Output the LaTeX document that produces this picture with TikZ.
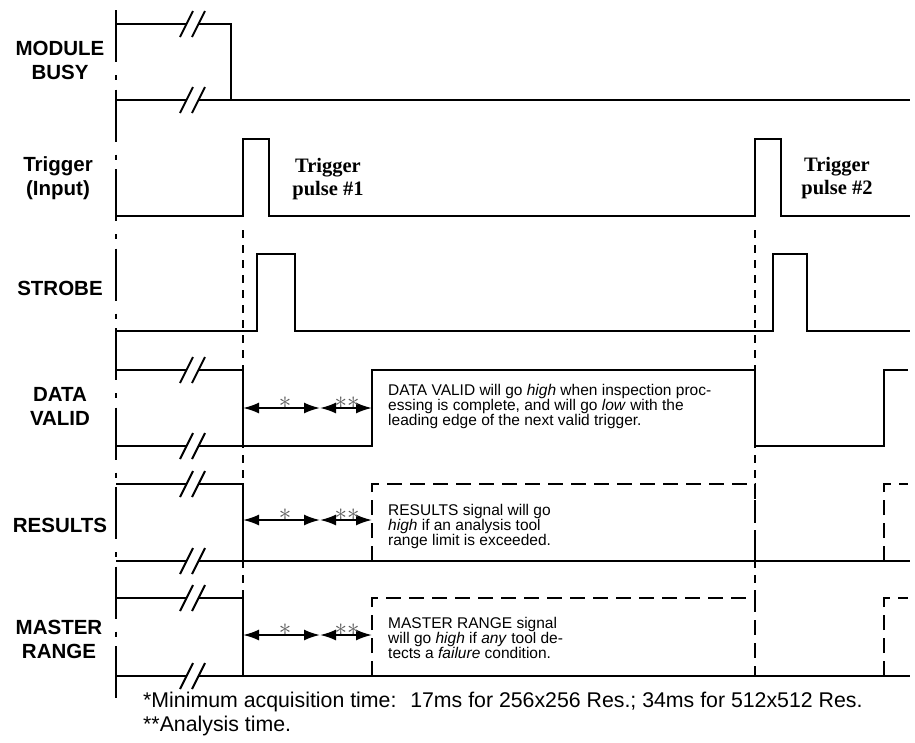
\documentclass[tikz,border=0pt]{standalone}
\usepackage{fontspec}
\setmainfont{Liberation Sans}
\newfontfamily\pulsefont{Liberation Serif}
\usetikzlibrary{arrows.meta}

% break mark "//" on a signal line
\newcommand{\brkmark}[2]{%
  \fill[white] (#1-13,#2+13) -- (#1,#2-13) -- (#1+12,#2-13) -- (#1-1,#2+13) -- cycle;
  \draw[brk] (#1-13,#2+13) -- (#1,#2-13) (#1-1,#2+13) -- (#1+12,#2-13);}

\begin{document}
\begin{tikzpicture}[
    x=1pt, y=-1pt,
    sig/.style={line width=2.4pt, line join=miter},
    ghost/.style={sig, dash pattern=on 15pt off 8pt},
    guide/.style={line width=2.2pt, dash pattern=on 8pt off 7pt},
    axis/.style={line width=2.4pt, dash pattern=on 52pt off 13pt on 5pt off 9.5pt},
    brk/.style={line width=2pt},
    dimarr/.style={line width=2pt, {Latex[length=16pt,width=11pt]}-{Latex[length=16pt,width=11pt]}},
    lbl/.style={font=\fontsize{20.5}{23.5}\selectfont\bfseries, align=center, inner sep=0pt},
    pulse/.style={font=\fontsize{20.5}{23}\selectfont\pulsefont\bfseries, align=center, inner sep=0pt},
    note/.style={font=\fontsize{15.5}{15}\selectfont, align=left, inner sep=0pt},
    star/.style={font=\fontsize{24}{24}\selectfont, text=black!65, inner sep=0pt},
    foot/.style={font=\fontsize{21.3}{24}\selectfont, align=left, inner sep=0pt}
]
\useasboundingbox (0,0) rectangle (915,742);

% signal names (base = last line)
\node[lbl, anchor=base] (busy) at (60,79) {MODULE\\BUSY};
\node[lbl, anchor=base] (trig) at (58,195) {Trigger\\(Input)};
\node[lbl, anchor=base] (strobe) at (60,295) {STROBE};
\node[lbl, anchor=base] (dvalid) at (60,425) {DATA\\VALID};
\node[lbl, anchor=base] (results) at (60,532) {RESULTS};
\node[lbl, anchor=base] (mrange) at (59,658) {MASTER\\RANGE};

% time axis and trigger guides
\draw[axis] (116,10) -- (116,698);
\draw[guide] (243,230) -- (243,598);
\draw[guide] (755,230) -- (755,598);

% MODULE BUSY
\draw[sig] (116,24) -| (231,100);
\draw[sig] (116,100) -- (910,100);
% Trigger (Input)
\draw[sig] (116,216) -| (243,139) -| (269,216) -| (755,139) -| (781,216) -- (910,216);
% STROBE
\draw[sig] (116,331) -| (257,254) -| (295,331) -| (773,254) -| (807,331) -- (910,331);
% DATA VALID
\draw[sig] (116,370) -| (243,446);
\draw[sig] (116,446) -| (372,370) -| (755,446) -| (884,370) -- (908,370);
% RESULTS
\draw[sig] (116,484) -| (243,561);
\draw[sig] (116,561) -- (910,561);
\draw[ghost] (372,561) |- (755,484) -- (755,561);
\draw[ghost] (884,561) |- (908,484);
% MASTER RANGE
\draw[sig] (116,598) -| (243,676);
\draw[sig] (116,676) -- (910,676);
\draw[ghost] (372,676) |- (755,598) -- (755,676);
\draw[ghost] (884,676) |- (908,598);

% breaks
\foreach \y in {24,100,370,446,484,561,598,676} {
  \brkmark{193}{\y}
}

% acquisition / analysis spans
\foreach \y/\n in {408/dv,520/rs,635/mr} {
  \coordinate (\n-a) at (243,\y);
  \coordinate (\n-b) at (320,\y);
  \coordinate (\n-c) at (372,\y);
  \draw[dimarr] (\n-a) -- (\n-b);
  \draw[dimarr] (\n-b) -- (\n-c);
  \node[star] (\n-s1) at (285,\y-5) {$\ast$};
  \node[star] (\n-s2) at (347,\y-5) {${\ast}{\ast}$};
}

% trigger pulse labels
\node[pulse, anchor=base] (p1) at (328,195) {Trigger\\pulse \#1};
\node[pulse, anchor=base] (p2) at (837,194) {Trigger\\pulse \#2};

% notes
\node[note, anchor=base west] (dvnote) at (388,425) {DATA VALID will go \textit{high} when inspection proc-\\essing is complete, and will go \textit{low} with the\\leading edge of the next valid trigger.};
\node[note, anchor=base west] (rsnote) at (388,545) {RESULTS signal will go\\\textit{high} if an analysis tool\\range limit is exceeded.};
\node[note, anchor=base west] (mrnote) at (388,658) {MASTER RANGE signal\\will go \textit{high} if \textit{any} tool de-\\tects a \textit{failure} condition.};

% footnotes
\node[foot, anchor=base west] (foot) at (143,731) {*Minimum acquisition time:~ 17ms for 256x256 Res.; 34ms for 512x512 Res.\\{}**Analysis time.};
\end{tikzpicture}
\end{document}
